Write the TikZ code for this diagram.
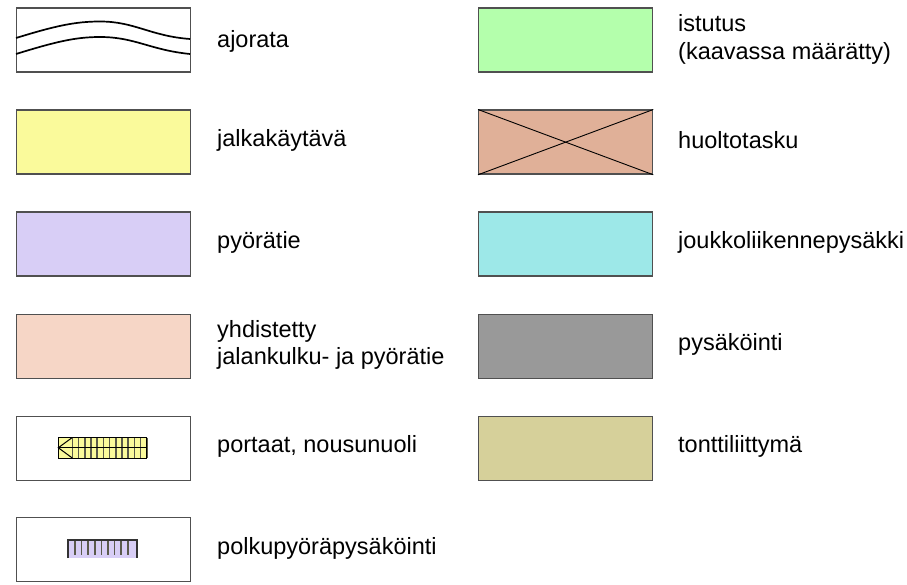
\documentclass[tikz,border=0pt]{standalone}
\usepackage{fontspec}
\setmainfont{Liberation Sans}
\definecolor{cGreen}{RGB}{180,255,172}
\definecolor{cYellow}{RGB}{250,250,155}
\definecolor{cPurple}{RGB}{216,206,246}
\definecolor{cPeach}{RGB}{246,214,198}
\definecolor{cHuolto}{RGB}{224,176,152}
\definecolor{cCyan}{RGB}{157,232,232}
\definecolor{cGray}{RGB}{153,153,153}
\definecolor{cTontti}{RGB}{214,208,154}
\definecolor{cBorder}{RGB}{80,80,80}
\definecolor{cTick}{RGB}{90,90,75}
\begin{document}
\begin{tikzpicture}[x=1pt,y=-1pt,
  legbox/.style={draw=cBorder,line width=1.3pt,minimum width=174pt,minimum height=64pt,inner sep=0pt,anchor=north west},
  legtext/.style={anchor=west,inner sep=0pt,align=left,font=\fontsize{23.5}{27.5}\selectfont},
  road/.style={line width=1.7pt,black},
  thinline/.style={line width=0.9pt,black}]
\useasboundingbox (0,0) rectangle (907,585);
% left column
\node[legbox,fill=white] (b1) at (16,7.5) {};
\node[legbox,fill=cYellow] (b2) at (16,109.5) {};
\node[legbox,fill=cPurple] (b3) at (16,211.5) {};
\node[legbox,fill=cPeach] (b4) at (16,313.5) {};
\node[legbox,fill=white] (b5) at (16,415.5) {};
\node[legbox,fill=white] (b6) at (16,517) {};
% right column
\node[legbox,fill=cGreen] (r1) at (478,7.5) {};
\node[legbox,fill=cHuolto] (r2) at (478,109.5) {};
\node[legbox,fill=cCyan] (r3) at (478,211.5) {};
\node[legbox,fill=cGray] (r4) at (478,313.5) {};
\node[legbox,fill=cTontti] (r5) at (478,415.5) {};
% ajorata curves
\draw[road] (16,38) .. controls (55,26) and (75,21.5) .. (100,21.5) .. controls (135,21.5) and (150,36) .. (190,39);
\draw[road] (16,54) .. controls (55,42) and (75,37) .. (100,37) .. controls (135,37) and (150,50) .. (190,54);
% huoltotasku cross
\draw[thinline] (r2.north west) -- (r2.south east);
\draw[thinline] (r2.south west) -- (r2.north east);
% stairs symbol
\fill[cYellow] (58.3,437.5) rectangle (146.7,458);
\foreach \i in {0,...,12}{
  \draw[cTick,line width=1.6pt] ({72.3+\i*6.2},437.5) -- ({72.3+\i*6.2},458);
}
\draw[black,line width=1pt] (58.3,437.5) rectangle (146.7,458);
\draw[black,line width=1pt] (58.3,447.75) -- (146.7,447.75);
\draw[black,line width=1pt] (72.3,437.5) -- (58.3,447.75) -- (72.3,458);
% bike parking symbol
\fill[cPurple] (68,540) rectangle (137,558);
\foreach \i in {0,...,8}{
  \draw[cTick,line width=1.6pt] ({75+\i*6.6},540) -- ({75+\i*6.6},555);
}
\draw[black!80,line width=1.5pt] (68,558) -- (68,540) -- (137,540) -- (137,558);
% labels
\node[legtext] (t1) at (217,41) {ajorata};
\node[legtext] (t2) at (217,140) {jalkakäytävä};
\node[legtext] (t3) at (217,242) {pyörätie};
\node[legtext] (t4) at (217,345) {yhdistetty\\jalankulku- ja pyörätie};
\node[legtext] (t5) at (217,446) {portaat, nousunuoli};
\node[legtext] (t6) at (217,548) {polkupyöräpysäköinti};
\node[legtext] (u1) at (678,39.5) {istutus\\(kaavassa määrätty)};
\node[legtext] (u2) at (678,140) {huoltotasku};
\node[legtext] (u3) at (678,242) {joukkoliikennepysäkki};
\node[legtext] (u4) at (678,344) {pysäköinti};
\node[legtext] (u5) at (678,446) {tonttiliittymä};
\end{tikzpicture}
\end{document}
